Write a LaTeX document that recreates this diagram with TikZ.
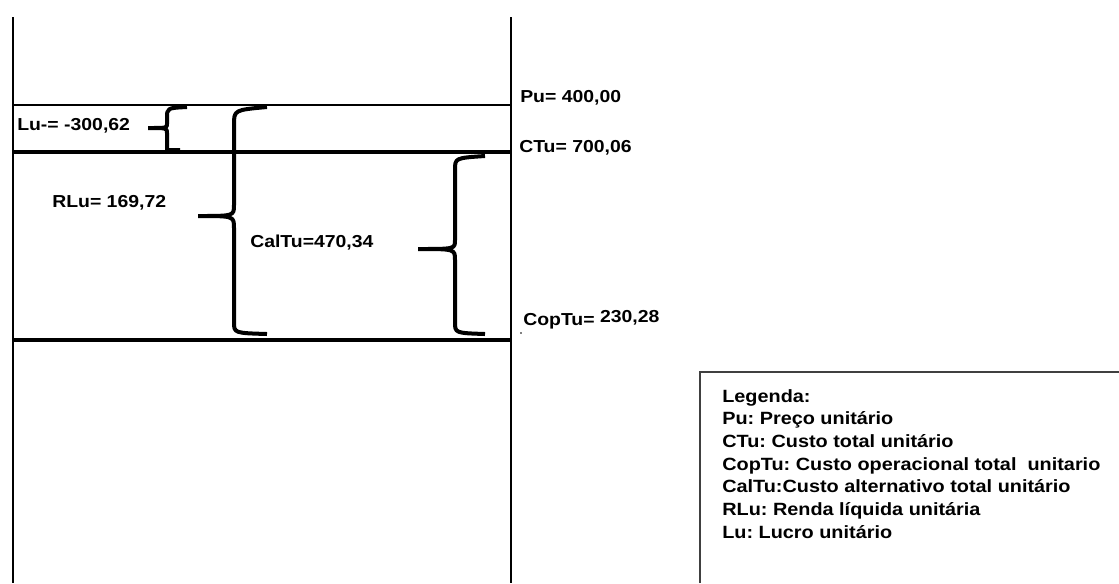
\documentclass[tikz,border=0pt]{standalone}
\usepackage{fontspec}
\setmainfont{Liberation Sans}
\newfontfamily\widesans[FakeStretch=1.12]{Liberation Sans}
\frenchspacing
\begin{document}
\begin{tikzpicture}[x=0.75pt,y=-0.75pt,
  frame/.style={line width=2.2pt,black},
  thinrule/.style={line width=1.5pt,black},
  thickrule/.style={line width=3.6pt,black},
  bracepath/.style={line width=3pt,black,line join=round},
  lbl/.style={font=\widesans\fontsize{13}{15}\selectfont\bfseries,inner sep=0pt,anchor=west},
  legtext/.style={font=\widesans\fontsize{13.3}{17}\selectfont\bfseries,inner sep=0pt,anchor=north west,align=left}]
\useasboundingbox (0,0) rectangle (1119,583);
% frame verticals
\draw[frame] (13,17) -- (13,583);
\draw[frame] (511,17) -- (511,583);
% horizontal levels
\draw[thinrule] (13,105) -- (511,105);
\draw[thickrule] (13,152) -- (511,152);
\draw[thickrule] (13,340) -- (511,340);
% Lu brace
\draw[bracepath] (187,107) .. controls (167,108) .. (167,118) -- (167,124) .. controls (167,128) .. (148,128)
  (148,128) .. controls (167,128) .. (167,133) -- (167,150) -- (180,150);
% RLu brace
\draw[bracepath] (267,107) .. controls (234,110) .. (234,125) -- (234,205) .. controls (234,216) .. (198,216)
  (198,216) .. controls (234,216) .. (234,228) -- (234,322) .. controls (234,333) .. (267,334);
% CalTu brace
\draw[bracepath] (485,156) .. controls (455,158) .. (455,170) -- (455,240) .. controls (455,249) .. (418,249)
  (418,249) .. controls (455,249) .. (455,260) -- (455,322) .. controls (455,333) .. (485,334);
% labels
\node[lbl] (lu) at (17,126) {Lu-= -300,62};
\node[lbl] (rlu) at (52,203) {RLu= 169,72};
\node[lbl] (caltu) at (250,243) {CalTu=470,34};
\node[lbl] (pu) at (520,98) {Pu= 400,00};
\node[lbl] (ctu) at (519,148) {CTu= 700,06};
\node[lbl] (coptu) at (523,320) {CopTu=\raisebox{2pt}{ 230,28}};
\fill (521,333) circle (0.9);
% legend
\draw[line width=1.5pt,black!75] (700,583) -- (700,372) -- (1119,372);
\node[legtext] (leg) at (722,389) {Legenda:\\
Pu: Preço unitário\\
CTu: Custo total unitário\\
CopTu: Custo operacional total \ unitario\\
CalTu:Custo alternativo total unitário\\
RLu: Renda líquida unitária\\
Lu: Lucro unitário};
\end{tikzpicture}
\end{document}
